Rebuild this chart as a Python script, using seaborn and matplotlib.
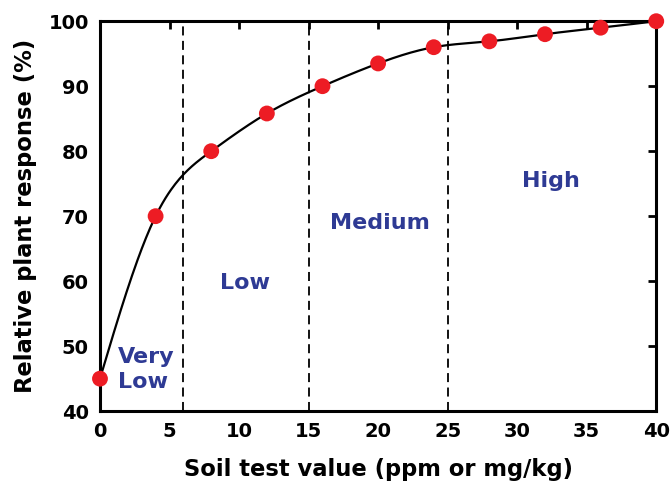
import numpy as np
import pandas as pd
import matplotlib
matplotlib.use("Agg")
import matplotlib.pyplot as plt
import seaborn as sns

# Data
soil_test = [0, 4, 8, 12, 16, 20, 24, 28, 32, 36, 40]
response = [45, 70, 80, 85.8, 90, 93.5, 96, 96.9, 98, 99, 100]
boundaries = [6, 15, 25]
zone_labels = ["Very\nLow", "Low", "Medium", "High"]
zone_x = [1.3, 10.4, 20.1, 32.4]
zone_y = [46.4, 59.7, 68.9, 75.4]
x_ticks = [0, 5, 10, 15, 20, 25, 30, 35, 40]
y_ticks = [40, 50, 60, 70, 80, 90, 100]


def natural_spline(x, y, xs):
    x = np.asarray(x, float); y = np.asarray(y, float)
    n = len(x)
    h = np.diff(x)
    A = np.zeros((n, n)); b = np.zeros(n)
    A[0, 0] = 1; A[-1, -1] = 1
    for i in range(1, n - 1):
        A[i, i - 1] = h[i - 1]
        A[i, i] = 2 * (h[i - 1] + h[i])
        A[i, i + 1] = h[i]
        b[i] = 3 * ((y[i + 1] - y[i]) / h[i] - (y[i] - y[i - 1]) / h[i - 1])
    c = np.linalg.solve(A, b)
    out = np.empty_like(xs)
    for k, xv in enumerate(xs):
        i = min(max(np.searchsorted(x, xv) - 1, 0), n - 2)
        dx = xv - x[i]
        bi = (y[i + 1] - y[i]) / h[i] - h[i] * (2 * c[i] + c[i + 1]) / 3
        di = (c[i + 1] - c[i]) / (3 * h[i])
        out[k] = y[i] + bi * dx + c[i] * dx ** 2 + di * dx ** 3
    return out


sns.set_theme(style="white")
plt.rcParams["font.family"] = ["DejaVu Sans"]
plt.rcParams["text.color"] = "black"
plt.rcParams["axes.labelcolor"] = "black"
plt.rcParams["xtick.color"] = "black"
plt.rcParams["ytick.color"] = "black"

fig = plt.figure(figsize=(6.71, 4.93), dpi=100)
ax = fig.add_axes([0.149, 0.166, 0.829, 0.791])

xs = np.linspace(0, 40, 400)
curve = pd.DataFrame({"x": xs, "y": natural_spline(soil_test, response, xs)})
sns.lineplot(data=curve, x="x", y="y", ax=ax, color="black", linewidth=1.6)

for b in boundaries:
    ax.axvline(b, color="black", linestyle=(0, (5, 3)), linewidth=1.3)

pts = pd.DataFrame({"x": soil_test, "y": response})
sns.scatterplot(data=pts, x="x", y="y", ax=ax, color="#ED1C24", s=130,
                edgecolor="none", zorder=5, clip_on=False)

label_color = "#2E3A94"
for lab, lx, ly in zip(zone_labels, zone_x, zone_y):
    ha = "left" if lab.startswith("Very") else "center"
    ax.text(lx, ly, lab, color=label_color, fontsize=16, fontweight="bold",
            ha=ha, va="center", multialignment="left", linespacing=1.3)

ax.set_xlim(0, 40)
ax.set_ylim(40, 100)
ax.set_xticks(x_ticks)
ax.set_yticks(y_ticks)
ax.tick_params(direction="in", length=6, width=2, top=True, right=True,
               labelsize=14, pad=8, colors="black")
for t in ax.get_xticklabels() + ax.get_yticklabels():
    t.set_fontweight("bold")
for s in ax.spines.values():
    s.set_linewidth(2.2)
    s.set_color("black")
ax.set_xlabel("Soil test value (ppm or mg/kg)", fontsize=16.3,
              fontweight="bold", labelpad=12, color="black")
ax.set_ylabel("Relative plant response (%)", fontsize=16.3,
              fontweight="bold", labelpad=8, color="black")

fig.savefig("out.png", dpi=100)
